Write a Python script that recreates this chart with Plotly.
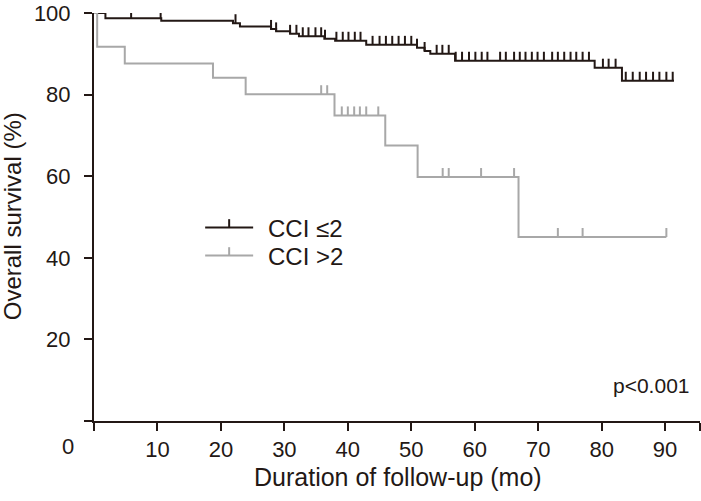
import bisect
import plotly.graph_objects as go

# ---------------- data ----------------
series_names = ["CCI \u22642", "CCI >2"]

# CCI <=2 : step curve (time in months, survival %)
low_times = [0, 1.8, 10.6, 21.9, 23.0, 27.9, 28.7, 30.9, 32.3, 36.3, 38.0, 42.9,
             50.9, 52.1, 53.0, 56.9, 78.9, 83.2, 91.4]
low_surv = [100, 98.7, 98.1, 97.5, 96.7, 96.1, 95.5, 94.9, 94.3, 93.7, 93.2, 92.2,
            91.5, 90.7, 90.0, 88.3, 86.6, 83.4, 83.4]
low_censor = [0.4, 5.85, 10.5, 22.3, 27.9, 28.7, 30.9, 31.9, 32.9, 33.8, 34.9, 35.8,
              36.4, 38.2, 39.2, 40.1, 41.1, 42.0, 43.9, 45.0, 46.0, 47.0, 48.0, 49.0,
              50.0, 50.9, 52.1, 54.0, 54.9, 55.9, 57.0, 58.0, 59.1, 60.1, 61.1, 62.0,
              64.0, 64.9, 66.2, 67.1, 68.0, 69.0, 69.9, 70.9, 72.2, 73.1, 74.1, 75.1,
              76.0, 77.0, 78.0, 80.2, 81.1, 82.2, 83.8, 84.9, 86.0, 87.0, 88.1, 89.1,
              90.2, 91.2]

# CCI >2
high_times = [0, 0.5, 4.85, 18.75, 23.9, 37.9, 45.9, 51.0, 66.9, 90.2]
high_surv = [100, 91.7, 87.6, 84.1, 80.1, 74.9, 67.5, 59.8, 45.1, 45.1]
high_censor = [35.8, 36.75, 39.05, 40.0, 41.0, 41.9, 42.9, 44.8, 54.95, 55.9, 61.0,
               66.2, 73.1, 77.0, 90.2]

x_ticks = [0, 10, 20, 30, 40, 50, 60, 70, 80, 90, 95.5]
x_ticktext = ["", "10", "20", "30", "40", "50", "60", "70", "80", "90", ""]
y_ticks = [0, 20, 40, 60, 80, 100]
y_ticktext = ["", "20", "40", "60", "80", "100"]

p_text = "p<0.001"
x_title = "Duration of follow-up (mo)"
y_title = "Overall survival (%)"

# ---------------- style ----------------
DARK = "#231815"
GRAY = "#a8a8a8"
FONT = "Liberation Sans, Arial, sans-serif"
TICK_H = 2.2  # censor tick height in % units


def level_at(times, surv, t):
    i = bisect.bisect_right(times, t) - 1
    return surv[max(i, 0)]


fig = go.Figure()

for times, surv, cens, color in [
    (low_times, low_surv, low_censor, DARK),
    (high_times, high_surv, high_censor, GRAY),
]:
    fig.add_trace(go.Scatter(
        x=times, y=surv, mode="lines", line=dict(color=color, width=2, shape="hv"),
        cliponaxis=False, showlegend=False, hoverinfo="skip"))
    cy = [level_at(times, surv, t) for t in cens]
    fig.add_trace(go.Scatter(
        x=cens, y=cy, mode="markers", marker=dict(size=1, color="rgba(0,0,0,0)"),
        error_y=dict(type="data", symmetric=False, array=[TICK_H] * len(cens),
                     arrayminus=[0] * len(cens), width=0, thickness=2, color=color),
        cliponaxis=False, showlegend=False, hoverinfo="skip"))

# ---- manual legend (paper coords) ----
X0, X1 = 93.8, 700.0
Y0, Y1 = 421.0, 9.0


def px(xp):
    return (xp - X0) / (X1 - X0)


def py(yp):
    return (Y0 - yp) / (Y0 - Y1)


legend_rows = [(225.7, DARK, series_names[0]), (254.0, GRAY, series_names[1])]
for yrow, color, name in legend_rows:
    fig.add_shape(type="line", xref="paper", yref="paper",
                  x0=px(205), x1=px(253), y0=py(yrow), y1=py(yrow),
                  line=dict(color=color, width=2))
    fig.add_shape(type="line", xref="paper", yref="paper",
                  x0=px(229), x1=px(229), y0=py(yrow), y1=py(yrow - 8.5),
                  line=dict(color=color, width=2))
    fig.add_annotation(text=name, xref="paper", yref="paper", x=px(266), y=py(yrow + 1),
                       xanchor="left", yanchor="middle", showarrow=False,
                       font=dict(family=FONT, size=24, color=DARK))

fig.add_annotation(text=p_text, xref="paper", yref="paper", x=px(692), y=py(385),
                   xanchor="right", yanchor="middle", showarrow=False,
                   font=dict(family=FONT, size=21, color=DARK))
fig.add_annotation(text="0", xref="paper", yref="paper", x=px(68), y=py(447),
                   xanchor="center", yanchor="middle", showarrow=False,
                   font=dict(family=FONT, size=22, color=DARK))
fig.add_annotation(text=x_title, xref="paper", yref="paper", x=px(398), y=py(478),
                   xanchor="center", yanchor="middle", showarrow=False,
                   font=dict(family=FONT, size=25, color=DARK))
fig.add_annotation(text=y_title, xref="paper", yref="paper", x=px(12), y=py(214),
                   xanchor="center", yanchor="middle", showarrow=False, textangle=-90,
                   font=dict(family=FONT, size=24, color=DARK))

axis_common = dict(showline=True, linecolor=DARK, linewidth=2, ticks="outside",
                   ticklen=8, tickwidth=2, tickcolor=DARK, showgrid=False,
                   zeroline=False, tickfont=dict(family=FONT, size=22, color=DARK),
                   tickmode="array", ticklabeloverflow="allow")

fig.update_layout(
    width=701, height=501,
    margin=dict(l=94, r=1, t=9, b=80),
    paper_bgcolor="white", plot_bgcolor="white",
    xaxis=dict(range=[0, 95.5], tickvals=x_ticks, ticktext=x_ticktext, **axis_common),
    yaxis=dict(range=[0, 100], tickvals=y_ticks, ticktext=y_ticktext,
               ticklabelstandoff=9, **axis_common),
    showlegend=False,
)

fig.write_html("out.html", config={"displayModeBar": False},
               post_script="document.body.style.margin='0';document.body.style.overflow='hidden';")
